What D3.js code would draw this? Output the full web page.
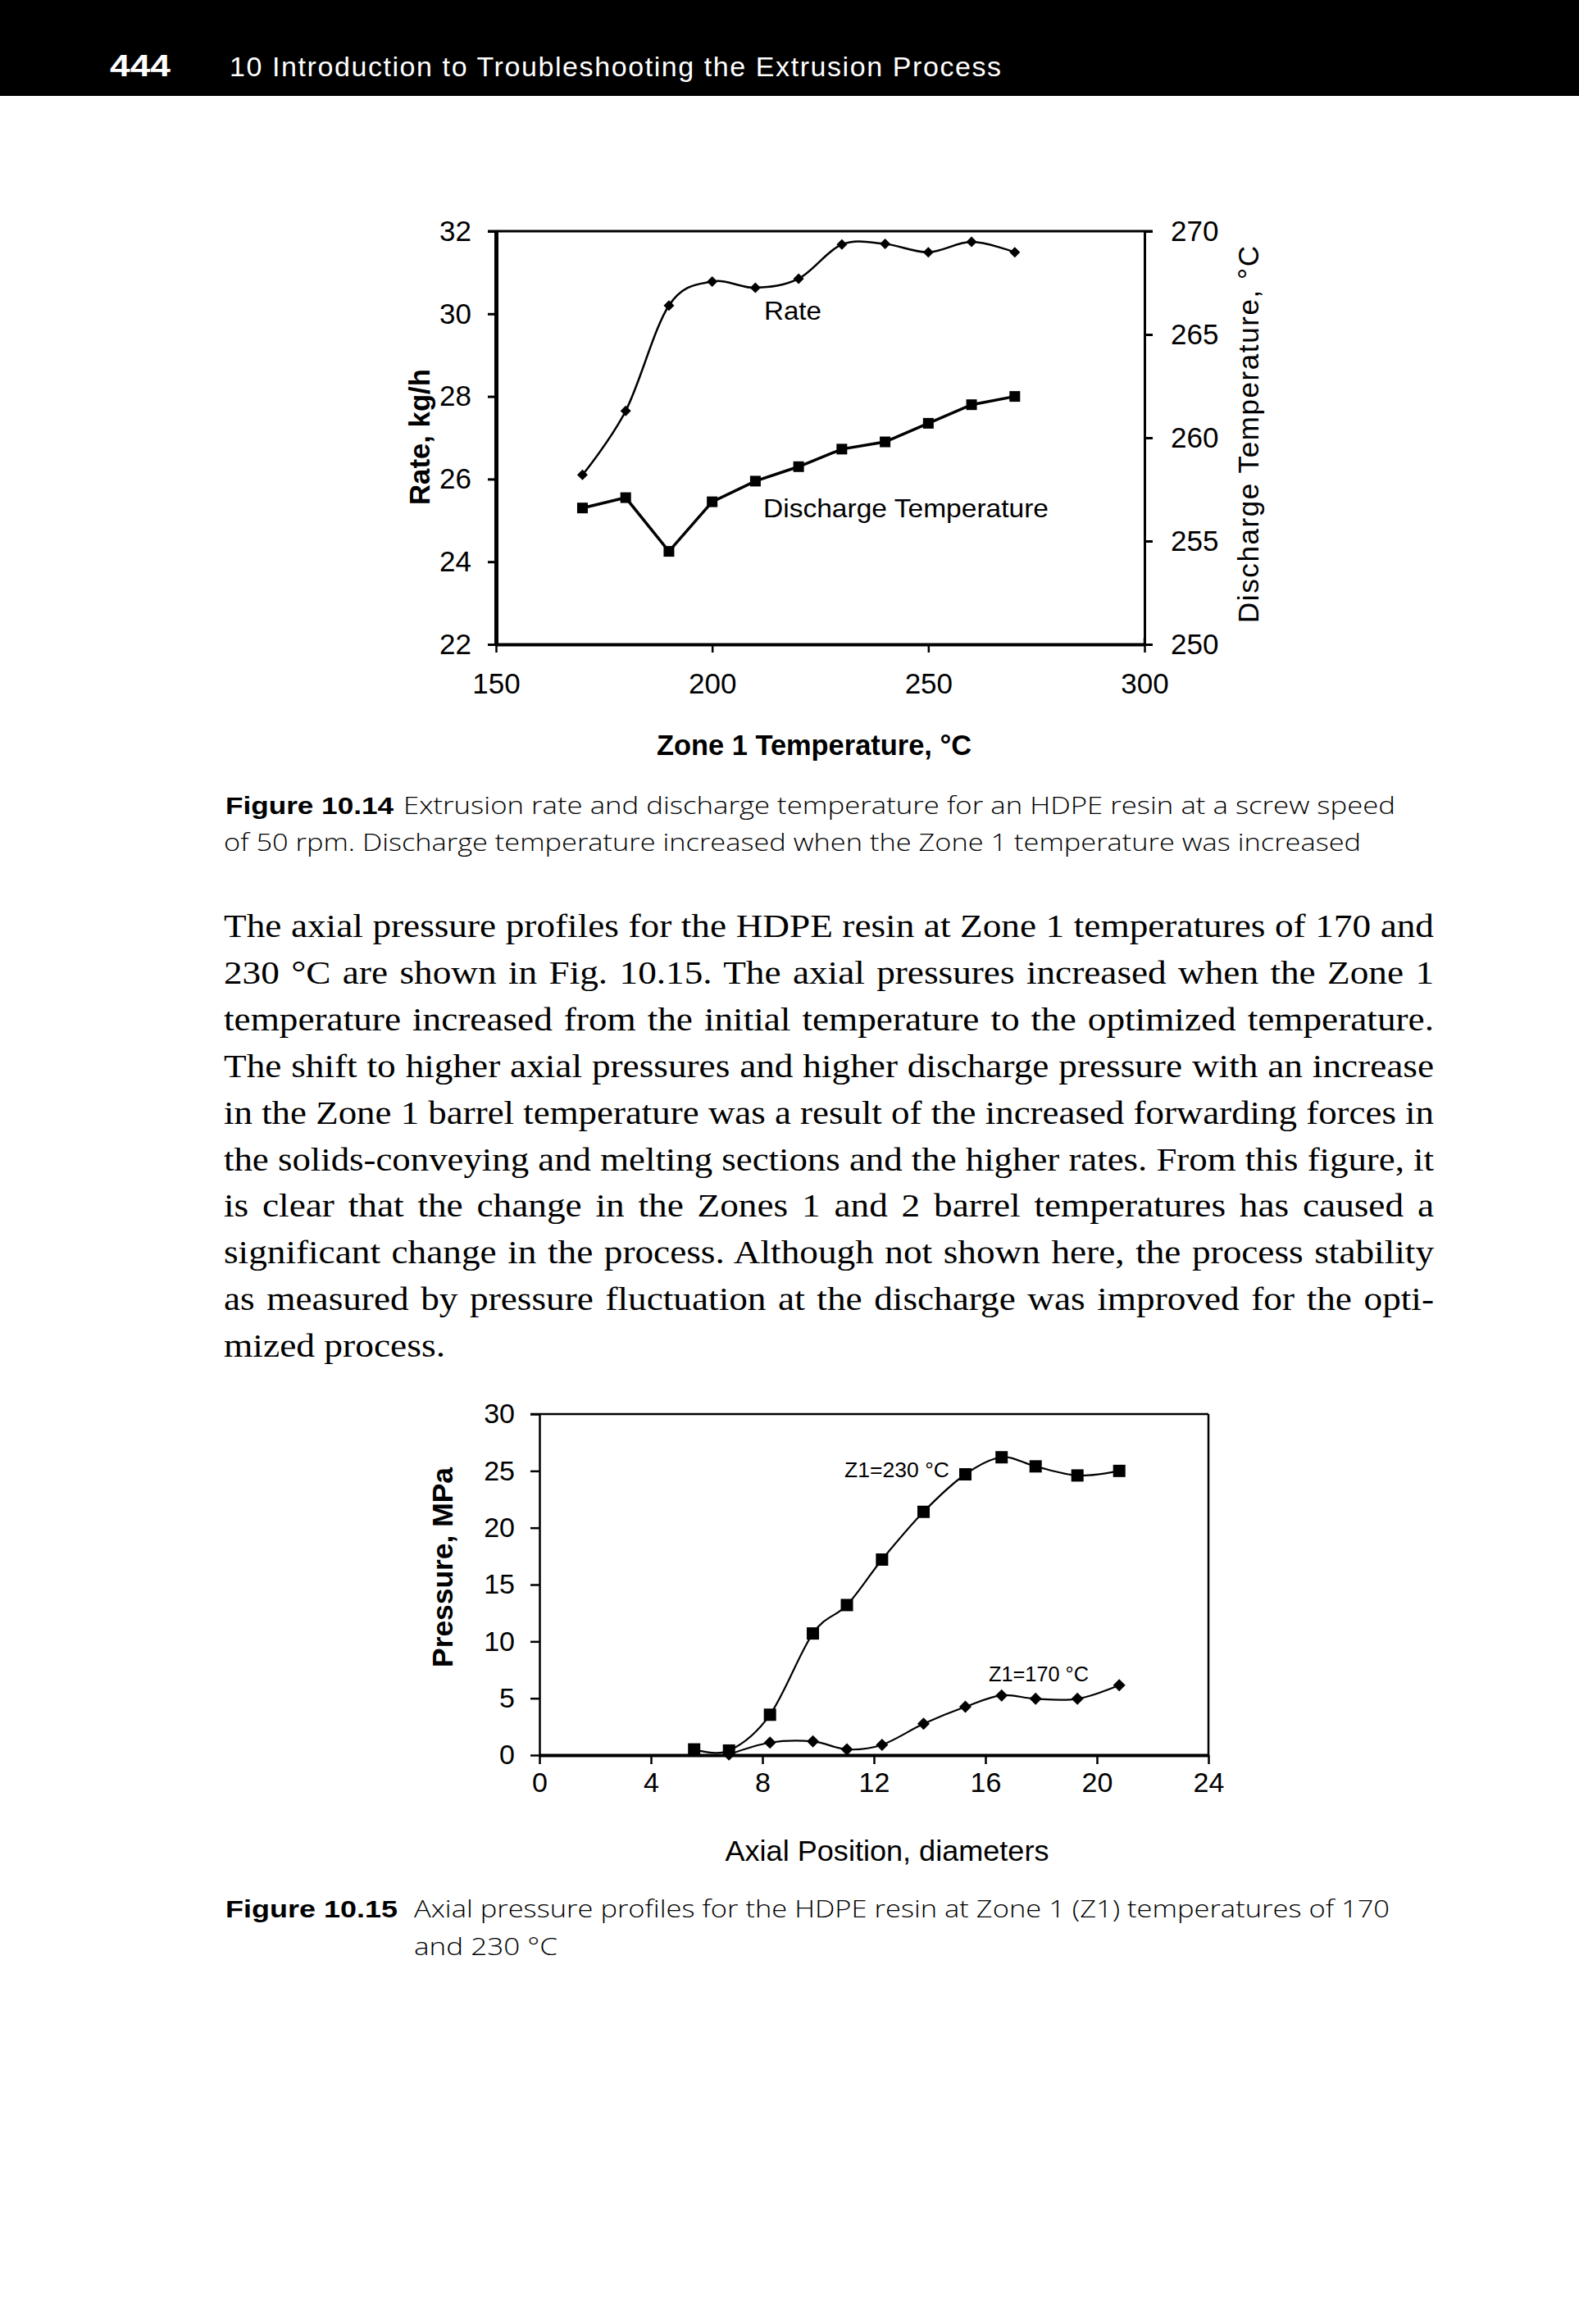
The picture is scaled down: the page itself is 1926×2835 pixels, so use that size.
<!DOCTYPE html>
<html><head><meta charset="utf-8">
<script src="https://cdn.jsdelivr.net/npm/d3@7"></script>
<style>html,body{margin:0;padding:0;background:#fff;} svg{display:block}</style>
</head><body>
<svg id="page" width="1926" height="2835"></svg>
<script>
// ---------- Figure 10.14 data ----------
const zoneTemps = [170,180,190,200,210,220,230,240,250,260,270];
const rateValues = [26.1,27.65,30.2,30.78,30.63,30.85,31.68,31.69,31.49,31.74,31.49];
const dischargeTempValues = [256.6,257.1,254.5,256.9,257.9,258.6,259.45,259.8,260.7,261.6,262.0];
const xTicks1 = [150,200,250,300];
const leftTicks1 = [22,24,26,28,30,32];
const rightTicks1 = [250,255,260,265,270];

// ---------- Figure 10.15 data ----------
const pos230 = [5.55,6.8,8.27,9.81,11.03,12.29,13.78,15.28,16.58,17.8,19.3,20.8];
const pressure230 = [0.5,0.4,3.55,10.7,13.2,17.2,21.4,24.7,26.2,25.4,24.6,25.0];
const pos170 = [6.8,8.27,9.81,11.03,12.29,13.78,15.28,16.58,17.8,19.3,20.8];
const pressure170 = [0.05,1.1,1.2,0.5,0.9,2.75,4.25,5.25,4.95,4.95,6.15];
const xTicks2 = [0,4,8,12,16,20,24];
const yTicks2 = [0,5,10,15,20,25,30];

// ---------- page texts ----------
const headerPage = "444";
const headerTitle = "10 Introduction to Troubleshooting the Extrusion Process";
const caption1Label = "Figure 10.14";
const caption1Lines = ["Extrusion rate and discharge temperature for an HDPE resin at a screw speed",
  "of 50 rpm. Discharge temperature increased when the Zone 1 temperature was increased"];
const caption2Label = "Figure 10.15";
const caption2Lines = ["Axial pressure profiles for the HDPE resin at Zone 1 (Z1) temperatures of 170",
  "and 230 °C"];
const bodyLines = [
  "The axial pressure profiles for the HDPE resin at Zone 1 temperatures of 170 and",
  "230 °C are shown in Fig. 10.15. The axial pressures increased when the Zone 1",
  "temperature increased from the initial temperature to the optimized temperature.",
  "The shift to higher axial pressures and higher discharge pressure with an increase",
  "in the Zone 1 barrel temperature was a result of the increased forwarding forces in",
  "the solids-conveying and melting sections and the higher rates. From this figure, it",
  "is clear that the change in the Zones 1 and 2 barrel temperatures has caused a",
  "significant change in the process. Although not shown here, the process stability",
  "as measured by pressure fluctuation at the discharge was improved for the opti-",
  "mized process."
];

const svg = d3.select('#page');
const SANS = '"Liberation Sans", Arial, sans-serif';
const SERIF = '"Liberation Serif", "Times New Roman", serif';
const LIGHT = '"Open Sans", "Liberation Sans", sans-serif';

function fit(sel, w, adj) { sel.attr('textLength', w).attr('lengthAdjust', adj || 'spacingAndGlyphs'); return sel; }
// justify a line: glyphs widened by `stretch`, remaining room given to word spaces
function justify(sel, w, stretch) {
  const n = sel.node().getComputedTextLength();
  const spaces = (sel.text().match(/ /g) || []).length;
  const base = w / stretch;
  const extra = base - n;
  if (extra > 0 && spaces) sel.style('word-spacing', (extra / spaces) + 'px');
  fit(sel, w);
}
function txt(x, y, s, size, family, weight) {
  return svg.append('text').attr('x', x).attr('y', y).text(s)
    .attr('font-size', size).attr('font-family', family).attr('font-weight', weight || 'normal').attr('fill', '#000');
}
function styleAxis(g, domainW, tickW, size) {
  g.attr('font-size', size).attr('font-family', SANS);
  g.select('.domain').attr('stroke', '#000').attr('stroke-width', domainW);
  g.selectAll('.tick line').attr('stroke', '#000').attr('stroke-width', tickW);
  g.selectAll('.tick text').attr('fill', '#000');
}

// ---------- header ----------
svg.append('rect').attr('x', 0).attr('y', 0).attr('width', 1926).attr('height', 117).attr('fill', '#000');
fit(txt(134, 93, headerPage, 37, SANS, 'bold').attr('fill', '#fff'), 74);
fit(txt(280, 93, headerTitle, 34, SANS, 'normal').attr('fill', '#fff'), 941, 'spacing');

// ---------- Figure 10.14 ----------
const c1 = {l: 605, r: 1396, t: 282, b: 786};
const x1 = d3.scaleLinear([150, 300], [c1.l, c1.r]);
const yL = d3.scaleLinear([22, 32], [c1.b, c1.t]);
const yR = d3.scaleLinear([250, 270], [c1.b, c1.t]);
const g1 = svg.append('g');

g1.append('line').attr('x1', c1.l - 10).attr('x2', c1.r + 10).attr('y1', c1.t).attr('y2', c1.t)
  .attr('stroke', '#000').attr('stroke-width', 3);

const ax1b = g1.append('g').attr('transform', `translate(0,${c1.b})`)
  .call(d3.axisBottom(x1).tickValues(xTicks1).tickSize(10).tickSizeOuter(0).tickPadding(25).tickFormat(d3.format('d')));
styleAxis(ax1b, 4, 2.5, 35);
const ax1l = g1.append('g').attr('transform', `translate(${c1.l},0)`)
  .call(d3.axisLeft(yL).tickValues(leftTicks1).tickSize(10).tickSizeOuter(0).tickPadding(20).tickFormat(d3.format('d')));
styleAxis(ax1l, 5, 3, 35);
const ax1r = g1.append('g').attr('transform', `translate(${c1.r},0)`)
  .call(d3.axisRight(yR).tickValues(rightTicks1).tickSize(10).tickSizeOuter(0).tickPadding(22).tickFormat(d3.format('d')));
styleAxis(ax1r, 3, 3, 35);
g1.selectAll('.xcross').data([150, 300]).enter().append('line')
  .attr('x1', d => x1(d)).attr('x2', d => x1(d)).attr('y1', c1.b - 8).attr('y2', c1.b)
  .attr('stroke', '#000').attr('stroke-width', 2.5);

const rateLine = d3.line().x((d, i) => x1(zoneTemps[i])).y(d => yL(d)).curve(d3.curveCardinal.tension(0));
g1.append('path').attr('d', rateLine(rateValues)).attr('fill', 'none').attr('stroke', '#000').attr('stroke-width', 2.5);
const dtLine = d3.line().x((d, i) => x1(zoneTemps[i])).y(d => yR(d));
g1.append('path').attr('d', dtLine(dischargeTempValues)).attr('fill', 'none').attr('stroke', '#000').attr('stroke-width', 3.5);

const dia = r => `M0,${-r}L${r},0L0,${r}L${-r},0Z`;
g1.selectAll('.rdot').data(rateValues).enter().append('path')
  .attr('d', dia(6.5)).attr('transform', (d, i) => `translate(${x1(zoneTemps[i])},${yL(d)})`).attr('fill', '#000');
g1.selectAll('.dsq').data(dischargeTempValues).enter().append('rect')
  .attr('x', (d, i) => x1(zoneTemps[i]) - 6.5).attr('y', d => yR(d) - 6.5).attr('width', 13).attr('height', 13).attr('fill', '#000');

fit(txt(932, 390, 'Rate', 32, SANS), 70);
fit(txt(931, 631, 'Discharge Temperature', 32, SANS), 348);

fit(svg.append('text').attr('transform', 'translate(511,533) rotate(-90)').attr('text-anchor', 'middle')
  .attr('dominant-baseline', 'central').attr('font-size', 35).attr('font-weight', 'bold').attr('font-family', SANS)
  .text('Rate, kg/h'), 166);
fit(svg.append('text').attr('transform', 'translate(1522,530) rotate(-90)').attr('text-anchor', 'middle')
  .attr('dominant-baseline', 'central').attr('font-size', 35).attr('font-family', SANS)
  .text('Discharge Temperature, °C'), 460, 'spacing');
fit(txt(993, 908, 'Zone 1 Temperature, °C', 35, SANS, 'bold').attr('text-anchor', 'middle').attr('dominant-baseline', 'central'), 384);

// caption 1
fit(txt(275, 993, caption1Label, 30, SANS, 'bold'), 205);
fit(txt(492, 993, caption1Lines[0], 30, LIGHT, 300), 1210);
fit(txt(273, 1038, caption1Lines[1], 30, LIGHT, 300), 1387);

// body text
bodyLines.forEach((s, i) => {
  const t = txt(273, 1143 + i * 56.9, s, 39, SERIF);
  if (i < bodyLines.length - 1) justify(t, 1476, 1.16); else fit(t, 270);
});

// ---------- Figure 10.15 ----------
const c2 = {l: 658, r: 1474, t: 1725, b: 2141};
const x2 = d3.scaleLinear([0, 24], [c2.l, c2.r]);
const y2 = d3.scaleLinear([0, 30], [c2.b, c2.t]);
const g2 = svg.append('g');

g2.append('line').attr('x1', c2.l - 11).attr('x2', c2.r).attr('y1', c2.t).attr('y2', c2.t).attr('stroke', '#000').attr('stroke-width', 2.5);
g2.append('line').attr('x1', c2.r).attr('x2', c2.r).attr('y1', c2.t).attr('y2', c2.b).attr('stroke', '#000').attr('stroke-width', 2.5);

const ax2l = g2.append('g').attr('transform', `translate(${c2.l},0)`)
  .call(d3.axisLeft(y2).tickValues(yTicks2).tickSize(11).tickSizeOuter(0).tickPadding(19).tickFormat(d3.format('d')));
styleAxis(ax2l, 2.5, 2.5, 34);
const ax2b = g2.append('g').attr('transform', `translate(0,${c2.b})`)
  .call(d3.axisBottom(x2).tickValues(xTicks2).tickSize(11).tickSizeOuter(0).tickPadding(10).tickFormat(d3.format('d')));
styleAxis(ax2b, 4, 2.5, 34);

const smooth2 = (xs, ys) => d3.line().x((d, i) => x2(xs[i])).y(d => y2(d)).curve(d3.curveCardinal.tension(0))(ys);
g2.append('path').attr('d', smooth2(pos230, pressure230)).attr('fill', 'none').attr('stroke', '#000').attr('stroke-width', 2.2);
g2.append('path').attr('d', smooth2(pos170, pressure170)).attr('fill', 'none').attr('stroke', '#000').attr('stroke-width', 2.2);
g2.selectAll('.sq2').data(pressure230).enter().append('rect')
  .attr('x', (d, i) => x2(pos230[i]) - 7.5).attr('y', d => y2(d) - 7.5).attr('width', 15).attr('height', 15).attr('fill', '#000');
g2.selectAll('.dm2').data(pressure170).enter().append('path')
  .attr('d', dia(7.5)).attr('transform', (d, i) => `translate(${x2(pos170[i])},${y2(d)})`).attr('fill', '#000');

fit(txt(1030, 1802, 'Z1=230 °C', 25, SANS), 128);
fit(txt(1206, 2051, 'Z1=170 °C', 25, SANS), 122);

fit(svg.append('text').attr('transform', 'translate(539,1912) rotate(-90)').attr('text-anchor', 'middle')
  .attr('dominant-baseline', 'central').attr('font-size', 35).attr('font-weight', 'bold').attr('font-family', SANS)
  .text('Pressure, MPa'), 244);
fit(txt(1082, 2257, 'Axial Position, diameters', 35, SANS).attr('text-anchor', 'middle').attr('dominant-baseline', 'central'), 395);

// caption 2
fit(txt(275, 2339, caption2Label, 30, SANS, 'bold'), 210);
fit(txt(505, 2339, caption2Lines[0], 30, LIGHT, 300), 1190);
fit(txt(505, 2385, caption2Lines[1], 30, LIGHT, 300), 175);
</script>
</body></html>
